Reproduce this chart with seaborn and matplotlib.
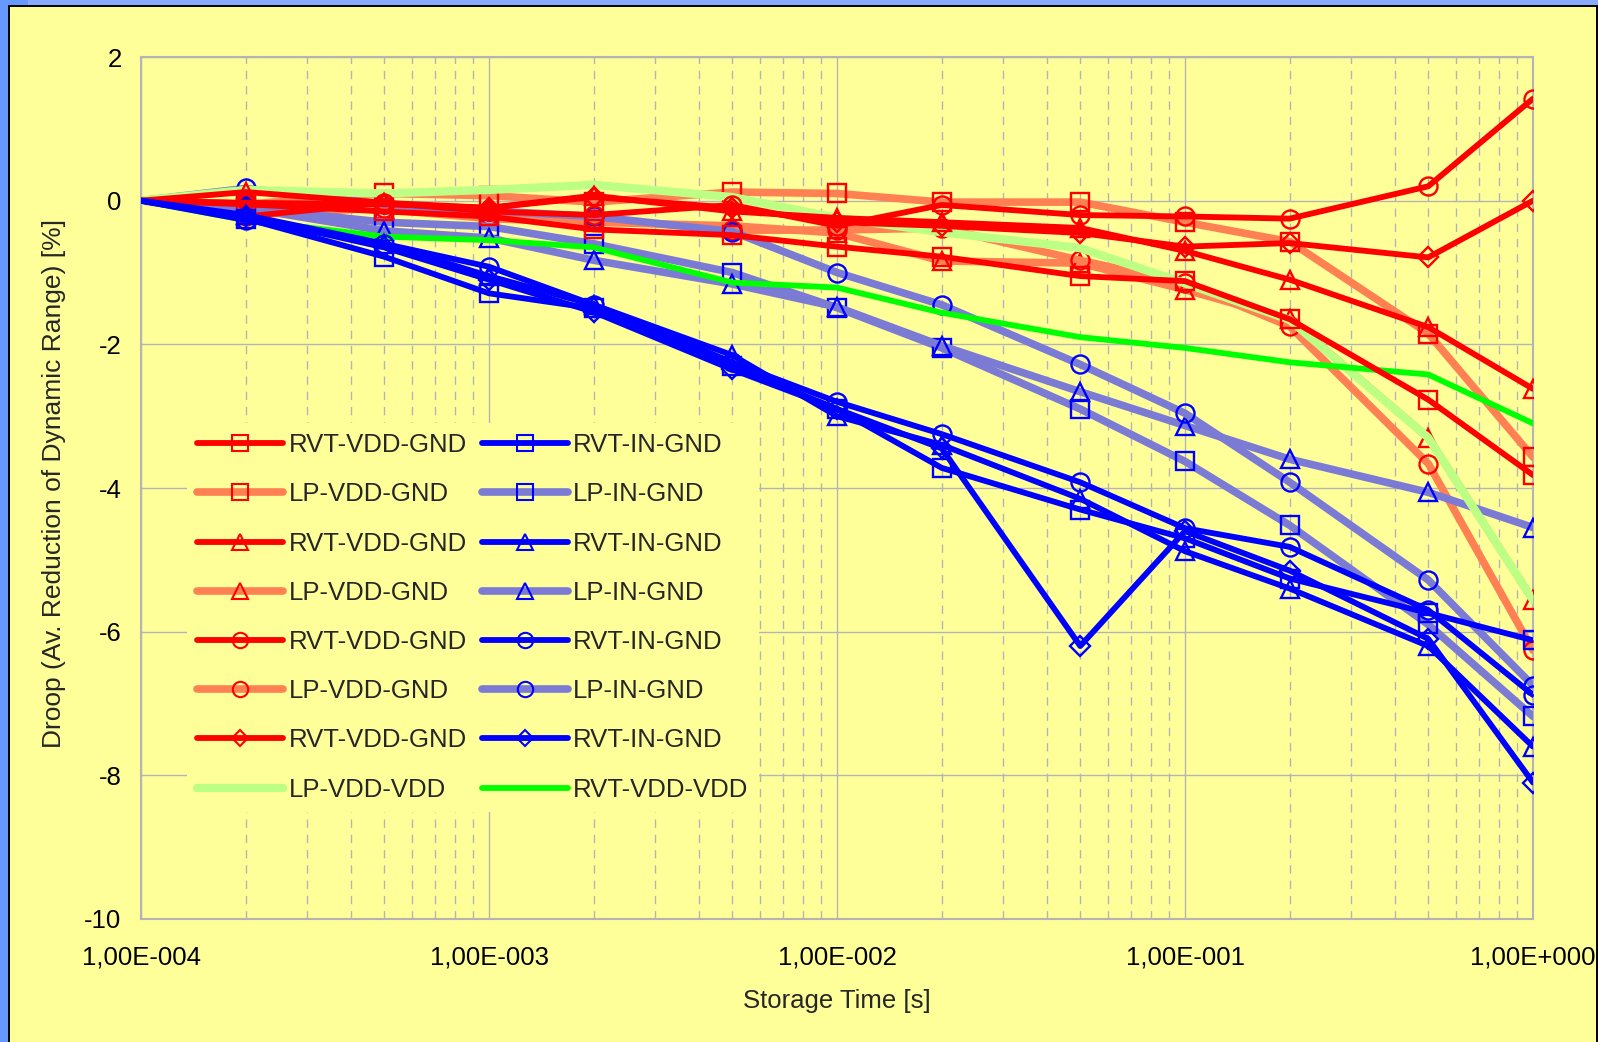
import matplotlib
matplotlib.use("Agg")
import matplotlib.pyplot as plt
import seaborn as sns
from matplotlib.ticker import FixedLocator, FuncFormatter, NullFormatter
from matplotlib.patches import Rectangle
from matplotlib.lines import Line2D

# Storage time [s]
storage_time = [1e-4, 2e-4, 5e-4, 1e-3, 2e-3, 5e-3, 1e-2, 2e-2, 5e-2, 1e-1, 2e-1, 5e-1, 1.0]

# Droop [%] per cell flavour / bias configuration
rvt_vdd_gnd_square = [0.0, -0.05, -0.15, -0.22, -0.40, -0.48, -0.64, -0.78, -1.05, -1.12, -1.65, -2.77, -3.82]
lp_vdd_gnd_square = [0.0, -0.05, 0.10, 0.07, -0.02, 0.12, 0.10, -0.02, -0.02, -0.30, -0.57, -1.85, -3.57]
rvt_vdd_gnd_triangle = [0.0, 0.12, -0.03, -0.10, 0.07, -0.15, -0.24, -0.30, -0.38, -0.70, -1.10, -1.76, -2.62]
lp_vdd_gnd_triangle = [0.0, -0.05, -0.12, -0.25, -0.30, -0.35, -0.45, -0.84, -0.87, -1.24, -1.65, -3.30, -5.56]
rvt_vdd_gnd_circle = [0.0, -0.22, -0.03, -0.15, -0.20, -0.06, -0.35, -0.06, -0.20, -0.22, -0.25, 0.20, 1.42]
lp_vdd_gnd_circle = [0.0, -0.20, -0.10, -0.20, -0.25, -0.41, -0.41, -0.38, -0.83, -1.15, -1.75, -3.66, -6.26]
rvt_vdd_gnd_diamond = [0.0, -0.03, -0.05, -0.10, 0.05, -0.10, -0.30, -0.35, -0.45, -0.64, -0.59, -0.79, 0.0]
lp_vdd_vdd = [0.0, 0.15, 0.10, 0.15, 0.22, 0.05, -0.24, -0.44, -0.66, -1.15, -1.66, -3.30, -5.56]

rvt_in_gnd_square = [0.0, -0.25, -0.78, -1.29, -1.50, -2.30, -2.90, -3.72, -4.30, -4.70, -5.26, -5.74, -6.12]
lp_in_gnd_square = [0.0, -0.10, -0.30, -0.36, -0.60, -1.00, -1.49, -2.05, -2.90, -3.63, -4.52, -5.90, -7.18]
rvt_in_gnd_triangle = [0.0, -0.20, -0.60, -1.05, -1.45, -2.15, -3.00, -3.40, -4.15, -4.88, -5.40, -6.20, -7.60]
lp_in_gnd_triangle = [0.0, -0.10, -0.42, -0.52, -0.83, -1.16, -1.48, -2.02, -2.66, -3.13, -3.60, -4.06, -4.55]
rvt_in_gnd_circle = [0.0, -0.27, -0.60, -0.92, -1.45, -2.25, -2.80, -3.25, -3.92, -4.56, -4.82, -5.70, -6.88]
lp_in_gnd_circle = [0.0, 0.17, -0.05, -0.14, -0.22, -0.43, -1.00, -1.45, -2.28, -2.96, -3.92, -5.28, -6.75]
rvt_in_gnd_diamond = [0.0, -0.22, -0.65, -1.10, -1.55, -2.35, -2.90, -3.45, -6.20, -4.60, -5.15, -6.10, -8.10]
rvt_vdd_vdd = [0.0, -0.27, -0.50, -0.55, -0.65, -1.14, -1.21, -1.56, -1.90, -2.05, -2.25, -2.42, -3.10]

BG = "#FFFF99"
GRID = "#B4B4B4"
RED, CORAL = "#FF0000", "#FF8052"
BLUE, LILAC = "#0000FF", "#7B7BD6"
GREEN, LIGHT_GREEN = "#00FF00", "#BCFF84"

sns.set_style("white")
plt.rcParams["font.family"] = ["Liberation Sans", "DejaVu Sans"]
plt.rcParams["font.size"] = 18.5
plt.rcParams["axes.unicode_minus"] = False

# (label, values, line colour, line width, marker, marker edge colour, marker size, zorder)
series = [
    ("RVT-VDD-GND", rvt_vdd_gnd_square, RED, 4.2, "s", RED, 13, 6),
    ("LP-VDD-GND", lp_vdd_gnd_square, CORAL, 5.5, "s", RED, 13, 3),
    ("RVT-VDD-GND", rvt_vdd_gnd_triangle, RED, 4.2, "^", RED, 13, 6),
    ("LP-VDD-GND", lp_vdd_gnd_triangle, CORAL, 5.5, "^", RED, 13, 3),
    ("RVT-VDD-GND", rvt_vdd_gnd_circle, RED, 4.2, "o", RED, 13, 6),
    ("LP-VDD-GND", lp_vdd_gnd_circle, CORAL, 5.5, "o", RED, 13, 3),
    ("RVT-VDD-GND", rvt_vdd_gnd_diamond, RED, 4.2, "D", RED, 10, 6),
    ("LP-VDD-VDD", lp_vdd_vdd, LIGHT_GREEN, 6.0, None, None, 0, 3.5),
    ("RVT-IN-GND", rvt_in_gnd_square, BLUE, 4.2, "s", BLUE, 13, 7),
    ("LP-IN-GND", lp_in_gnd_square, LILAC, 5.5, "s", BLUE, 13, 3),
    ("RVT-IN-GND", rvt_in_gnd_triangle, BLUE, 4.2, "^", BLUE, 13, 7),
    ("LP-IN-GND", lp_in_gnd_triangle, LILAC, 5.5, "^", BLUE, 13, 3),
    ("RVT-IN-GND", rvt_in_gnd_circle, BLUE, 4.2, "o", BLUE, 13, 7),
    ("LP-IN-GND", lp_in_gnd_circle, LILAC, 5.5, "o", BLUE, 13, 3),
    ("RVT-IN-GND", rvt_in_gnd_diamond, BLUE, 4.2, "D", BLUE, 10, 7),
    ("RVT-VDD-VDD", rvt_vdd_vdd, GREEN, 4.2, None, None, 0, 4),
]

W, H = 1598, 1042
fig = plt.figure(figsize=(W / 100, H / 100), dpi=100)
fig.patch.set_facecolor(BG)
L, R, T, B = 141, 1533, 57, 919
ax = fig.add_axes([L / W, 1 - B / H, (R - L) / W, (B - T) / H])
ax.set_facecolor(BG)

handles, labels = [], []
for label, values, color, lw, marker, mec, ms, z in series:
    kws = dict(color=color, linewidth=lw, zorder=z, sort=False, legend=False)
    if marker:
        kws.update(marker=marker, markersize=ms, markerfacecolor="none",
                   markeredgecolor=mec, markeredgewidth=1.7,
                   markevery=slice(1, None))
    sns.lineplot(x=storage_time, y=values, ax=ax, **kws)
    handles.append(Line2D([], [], color=color, linewidth=lw, marker=marker,
                          markersize=ms, markerfacecolor="none",
                          markeredgecolor=mec, markeredgewidth=1.5))
    labels.append(label)

ax.set_xscale("log")
ax.set_xlim(1e-4, 1.0)
ax.set_ylim(-10, 2)
ax.set_yticks(range(-10, 3, 2))
ax.xaxis.set_major_locator(FixedLocator([1e-4, 1e-3, 1e-2, 1e-1, 1.0]))
minor = [m * 10.0 ** e for e in range(-4, 0) for m in range(2, 10)]
ax.xaxis.set_minor_locator(FixedLocator(minor))
ax.xaxis.set_minor_formatter(NullFormatter())


def sci_label(v, _pos):
    mant, exp = f"{v:.2e}".split("e")
    e = int(exp)
    return f"{mant.replace('.', ',')}E{'+' if e >= 0 else '-'}{abs(e):03d}"


ax.xaxis.set_major_formatter(FuncFormatter(sci_label))
ax.tick_params(axis="both", which="both", length=0, labelsize=18.5, colors="black")
ax.tick_params(axis="x", pad=19)
ax.tick_params(axis="y", pad=14)

ax.grid(True, which="major", axis="both", color=GRID, linewidth=1.0, zorder=0)
ax.grid(True, which="minor", axis="x", color=GRID, linewidth=1.0,
        linestyle=(0, (6, 5)), zorder=0)
ax.set_axisbelow(True)
for sp in ax.spines.values():
    sp.set_color(GRID)
    sp.set_linewidth(1.5)

ax.set_xlabel("Storage Time [s]", fontsize=18.5)
ax.xaxis.set_label_coords(0.5, (B - 989) / (B - T))
ax.set_ylabel("Droop (Av. Reduction of Dynamic Range) [%]", fontsize=19)
ax.yaxis.set_label_coords((66 - L) / (R - L), 0.505)

leg = ax.legend(handles, labels, ncol=2, loc="upper left",
                bbox_to_anchor=((187 - L) / (R - L), (B - 423) / (B - T)),
                borderaxespad=0, borderpad=0.4, frameon=True, fancybox=False,
                facecolor=BG, edgecolor="none", framealpha=1.0,
                handlelength=3.35, handletextpad=0.2, columnspacing=0.58,
                labelspacing=0.98, markerscale=0.85, fontsize=18.5)
leg.set_zorder(10)

# Window-style frame around the figure
fig.patches.append(Rectangle((0, 1 - 5 / H), 1, 5 / H, transform=fig.transFigure,
                             facecolor="#88AAFF", edgecolor="none", zorder=0))
fig.patches.append(Rectangle((0, 0), 8 / W, 1, transform=fig.transFigure,
                             facecolor="#6699FF", edgecolor="none", zorder=0))
fig.patches.append(Rectangle((0, 1 - 5 / H), 28 / W, 5 / H, transform=fig.transFigure,
                             facecolor="#6699FF", edgecolor="none", zorder=0))
for xs, ys in [([8.5 / W, 8.5 / W], [0, 1 - 5.5 / H]),
               ([8.5 / W, 1], [1 - 5.5 / H, 1 - 5.5 / H]),
               ([1597 / W, 1597 / W], [0, 1 - 5.5 / H])]:
    fig.add_artist(Line2D(xs, ys, transform=fig.transFigure, color="black",
                          linewidth=1.4))

fig.savefig("out.png", dpi=100, facecolor=fig.get_facecolor())
